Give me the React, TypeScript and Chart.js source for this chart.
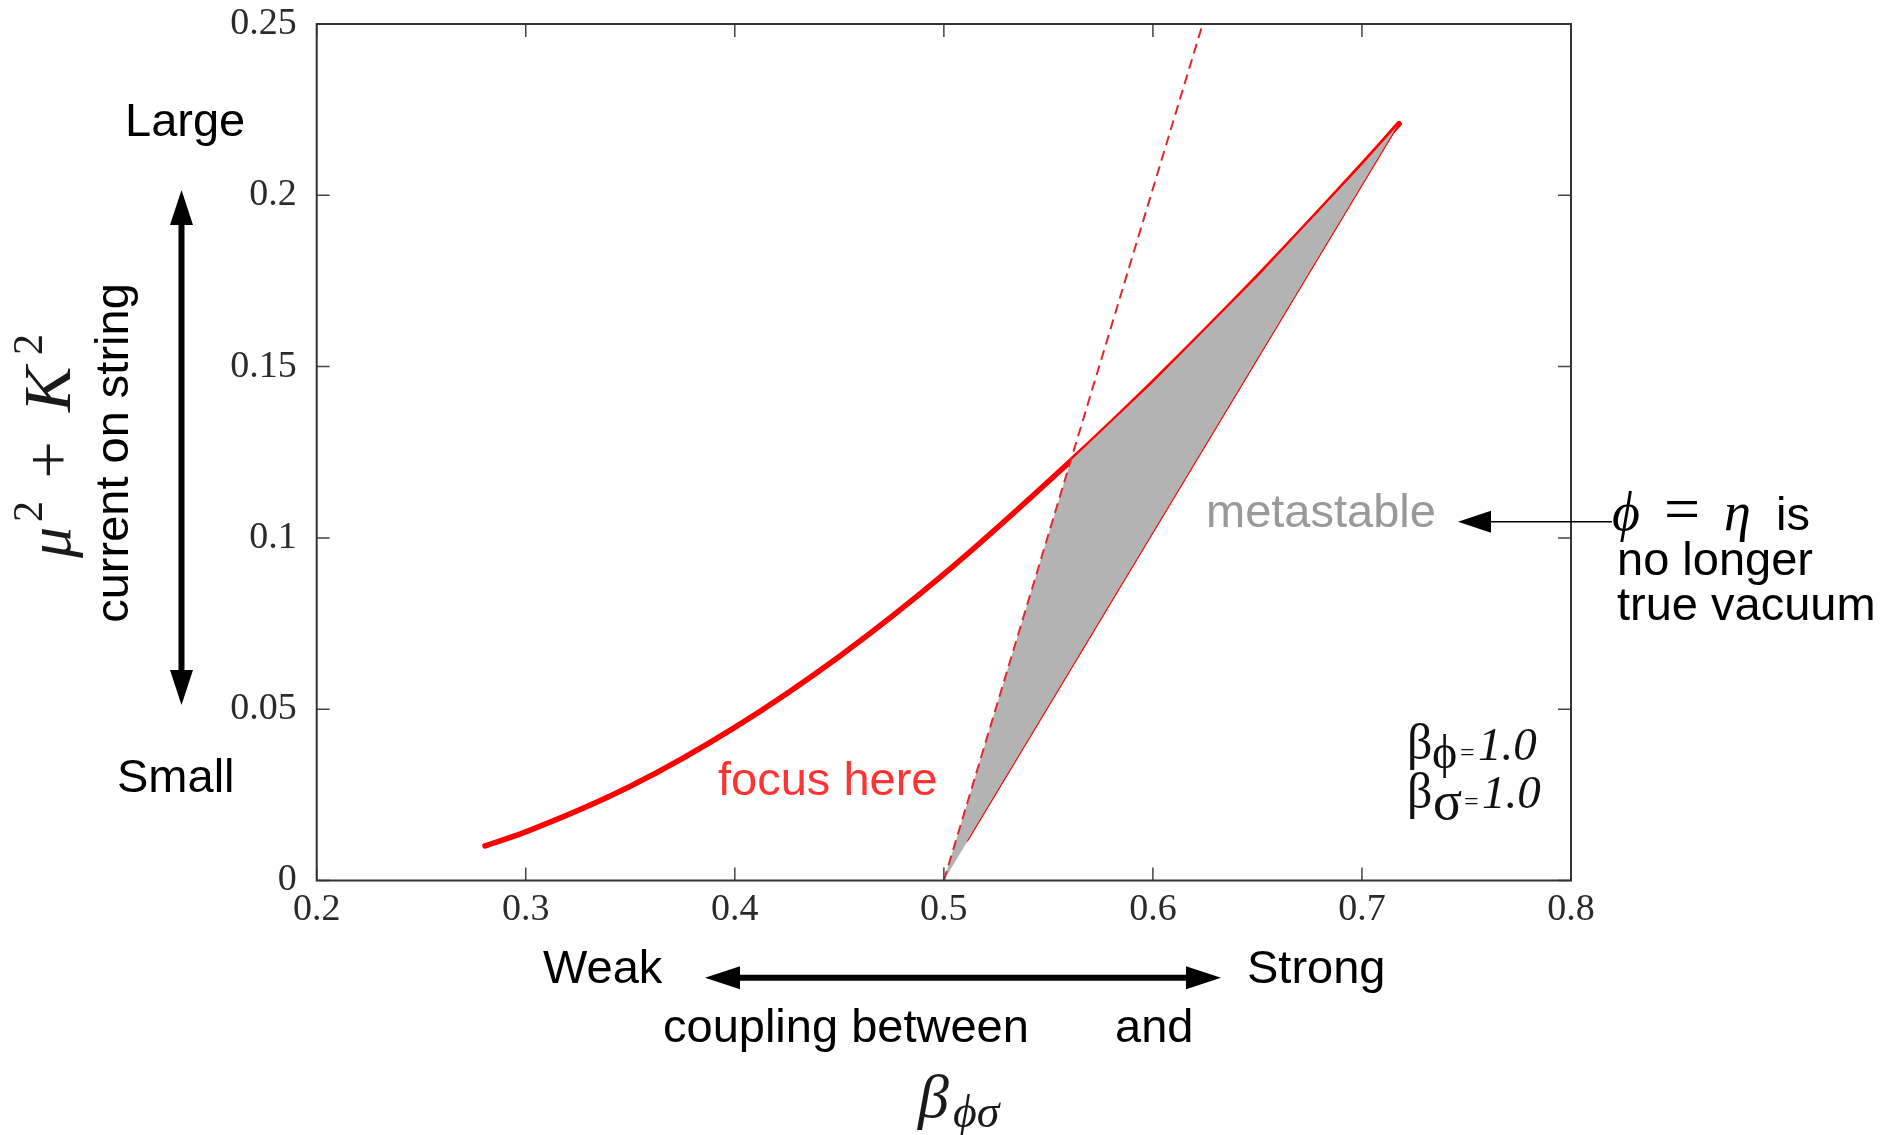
import React, { useEffect, useRef } from 'react';
import { Chart, registerables } from 'chart.js';

Chart.register(...registerables);

// ---- axis ticks ----
const xTickValues = [0.2, 0.3, 0.4, 0.5, 0.6, 0.7, 0.8];
const xTickLabels = ['0.2', '0.3', '0.4', '0.5', '0.6', '0.7', '0.8'];
const yTickValues = [0, 0.05, 0.1, 0.15, 0.2, 0.25];
const yTickLabels = ['0', '0.05', '0.1', '0.15', '0.2', '0.25'];

// ---- thick red curve (mu^2 + K^2 vs beta_phi_sigma) ----
const curveX = [0.2805, 0.3, 0.35, 0.4, 0.45, 0.5, 0.5617, 0.6, 0.65, 0.7, 0.7178];
const curveY = [0.0101, 0.0142, 0.0275, 0.0447, 0.0654, 0.0894, 0.123, 0.1453, 0.1761, 0.2088, 0.2209];

// ---- dashed red line ----
const dashX = [0.5, 0.6238];
const dashY = [0, 0.25];

// ---- metastable (grey) region outline ----
const metaX = [0.5, 0.5607, 0.6, 0.65, 0.7, 0.7178, 0.5];
const metaY = [0, 0.1225, 0.1453, 0.1761, 0.2088, 0.2209, 0];

// ---- thin red lower boundary ----
const lowerX = [0.5112, 0.7178];
const lowerY = [0.0114, 0.2209];

const SANS = '"Liberation Sans", Arial, sans-serif';
const SERIF = '"Liberation Serif", "Times New Roman", "DejaVu Serif", serif';

const pts = (xs: number[], ys: number[]) => xs.map((x, i) => ({ x, y: ys[i] }));

function drawArrowHead(ctx: CanvasRenderingContext2D, tipX: number, tipY: number, dirX: number, dirY: number, len: number, half: number) {
  const bx = tipX - dirX * len;
  const by = tipY - dirY * len;
  const px = -dirY;
  const py = dirX;
  ctx.beginPath();
  ctx.moveTo(tipX, tipY);
  ctx.lineTo(bx + px * half, by + py * half);
  ctx.lineTo(bx - px * half, by - py * half);
  ctx.closePath();
  ctx.fill();
}

function doubleArrow(ctx: CanvasRenderingContext2D, x1: number, y1: number, x2: number, y2: number, shaft: number, len: number, half: number) {
  const L = Math.hypot(x2 - x1, y2 - y1);
  const dx = (x2 - x1) / L;
  const dy = (y2 - y1) / L;
  ctx.lineWidth = shaft;
  ctx.beginPath();
  ctx.moveTo(x1 + dx * (len - 2), y1 + dy * (len - 2));
  ctx.lineTo(x2 - dx * (len - 2), y2 - dy * (len - 2));
  ctx.stroke();
  drawArrowHead(ctx, x2, y2, dx, dy, len, half);
  drawArrowHead(ctx, x1, y1, -dx, -dy, len, half);
}

function text(ctx: CanvasRenderingContext2D, s: string, x: number, y: number, font: string, color = '#000', align: CanvasTextAlign = 'left') {
  ctx.font = font;
  ctx.fillStyle = color;
  ctx.textAlign = align;
  ctx.textBaseline = 'alphabetic';
  ctx.fillText(s, x, y);
}

const annotations = {
  id: 'annotations',
  afterDraw(chart: any) {
    const ctx: CanvasRenderingContext2D = chart.ctx;
    const { left, right, top, bottom } = chart.chartArea;
    const xs = chart.scales.x;
    const ys = chart.scales.y;
    ctx.save();

    // inward ticks (mirrored)
    ctx.strokeStyle = '#444';
    ctx.lineWidth = 1.5;
    ctx.beginPath();
    for (const v of xTickValues) {
      const p = xs.getPixelForValue(v);
      ctx.moveTo(p, bottom);
      ctx.lineTo(p, bottom - 13);
      ctx.moveTo(p, top);
      ctx.lineTo(p, top + 13);
    }
    for (const v of yTickValues) {
      const p = ys.getPixelForValue(v);
      ctx.moveTo(left, p);
      ctx.lineTo(left + 13, p);
      ctx.moveTo(right, p);
      ctx.lineTo(right - 13, p);
    }
    ctx.stroke();

    // frame
    ctx.strokeStyle = '#333';
    ctx.lineWidth = 2;
    ctx.strokeRect(left, top, right - left, bottom - top);

    // ---- left side annotations ----
    text(ctx, 'Large', 125, 136, `47px ${SANS}`);
    text(ctx, 'Small', 117, 792, `47px ${SANS}`);
    ctx.fillStyle = '#000';
    ctx.strokeStyle = '#000';
    doubleArrow(ctx, 181.5, 190, 181.5, 705, 6, 35, 11.5);

    // rotated "current on string"
    ctx.save();
    ctx.translate(128, 453);
    ctx.rotate(-Math.PI / 2);
    text(ctx, 'current on string', 0, 0, `47px ${SANS}`, '#000', 'center');
    ctx.restore();

    // rotated mu^2 + K^2
    ctx.save();
    ctx.translate(70, 558);
    ctx.rotate(-Math.PI / 2);
    text(ctx, 'μ', 0, 0, `italic 62px ${SERIF}`, '#1a1a1a');
    text(ctx, '2', 36, -28, `42px ${SERIF}`, '#1a1a1a');
    text(ctx, '+', 98, 0, `66px ${SERIF}`, '#1a1a1a', 'center');
    text(ctx, 'K', 146, 0, `italic 68px ${SERIF}`, '#1a1a1a');
    text(ctx, '2', 203, -28, `42px ${SERIF}`, '#1a1a1a');
    ctx.restore();

    // ---- inside plot ----
    text(ctx, 'focus here', 718, 795, `47px ${SANS}`, '#ff3333');
    text(ctx, 'metastable', 1206, 527, `47px ${SANS}`, '#999999');

    // parameter box
    text(ctx, 'β', 1407, 759, `50px ${SERIF}`, '#111');
    text(ctx, 'ϕ', 1432, 768, `48px ${SERIF}`, '#111');
    text(ctx, '=', 1460, 761, `26px ${SERIF}`, '#111');
    text(ctx, '1.0', 1478, 760, `italic 47px ${SERIF}`, '#111');
    text(ctx, 'β', 1407, 808, `50px ${SERIF}`, '#111');
    text(ctx, 'σ', 1433, 819, `54px ${SERIF}`, '#111');
    text(ctx, '=', 1464, 810, `26px ${SERIF}`, '#111');
    text(ctx, '1.0', 1482, 808, `italic 47px ${SERIF}`, '#111');

    // ---- right side: phi = eta is no longer true vacuum ----
    ctx.strokeStyle = '#000';
    ctx.fillStyle = '#000';
    ctx.lineWidth = 1.5;
    ctx.beginPath();
    ctx.moveTo(1612, 521.7);
    ctx.lineTo(1488, 521.7);
    ctx.stroke();
    drawArrowHead(ctx, 1458, 521.7, -1, 0, 33, 11);

    text(ctx, 'ϕ', 1612, 530, `italic 54px ${SERIF}`);
    text(ctx, '=', 1682, 530, `64px ${SERIF}`, '#000', 'center');
    text(ctx, 'η', 1724, 530, `italic 54px ${SERIF}`);
    text(ctx, 'is', 1776, 530, `47px ${SANS}`);
    text(ctx, 'no longer', 1617, 575, `47px ${SANS}`);
    text(ctx, 'true vacuum', 1617, 620, `47px ${SANS}`);

    // ---- bottom annotations ----
    text(ctx, 'Weak', 543, 983, `47px ${SANS}`);
    text(ctx, 'Strong', 1247, 983, `47px ${SANS}`);
    ctx.fillStyle = '#000';
    ctx.strokeStyle = '#000';
    doubleArrow(ctx, 705, 977.7, 1221, 977.7, 6, 35, 11.5);
    text(ctx, 'coupling between', 663, 1042, `47px ${SANS}`);
    text(ctx, 'and', 1115, 1042, `47px ${SANS}`);

    // x-axis title beta_{phi sigma}
    text(ctx, 'β', 918, 1117, `italic 62px ${SERIF}`, '#1a1a1a');
    text(ctx, 'ϕσ', 953, 1127, `italic 46px ${SERIF}`, '#1a1a1a');

    ctx.restore();
  },
};

export default function App() {
  const canvasRef = useRef<HTMLCanvasElement | null>(null);

  useEffect(() => {
    const canvas = canvasRef.current;
    if (!canvas) return;
    const tickFont = { family: SERIF, size: 38 };
    const chart = new Chart(canvas, {
      type: 'line',
      data: {
        datasets: [
          {
            data: pts(lowerX, lowerY),
            borderColor: '#ff0000',
            borderWidth: 1.2,
            pointRadius: 0,
            fill: false,
            tension: 0,
          },
          {
            data: pts(dashX, dashY),
            borderColor: '#e3262b',
            borderWidth: 2,
            borderDash: [10, 6],
            pointRadius: 0,
            fill: false,
            tension: 0,
          },
          {
            data: pts(metaX, metaY),
            borderColor: 'rgba(0,0,0,0)',
            borderWidth: 0,
            backgroundColor: '#b3b3b3',
            pointRadius: 0,
            fill: 'shape',
            tension: 0,
          },
          {
            data: pts(curveX, curveY),
            borderColor: '#ff0000',
            borderWidth: 5.5,
            borderCapStyle: 'round',
            pointRadius: 0,
            fill: false,
            cubicInterpolationMode: 'monotone',
          },
        ],
      } as any,
      options: {
        responsive: false,
        animation: false,
        devicePixelRatio: 1,
        layout: { padding: { left: 0, top: 24, right: 324, bottom: 194.5 } },
        plugins: { legend: { display: false }, tooltip: { enabled: false }, title: { display: false } },
        scales: {
          x: {
            type: 'linear',
            min: 0.2,
            max: 0.8,
            grid: { display: false, drawTicks: false },
            border: { display: false },
            afterBuildTicks: (s: any) => {
              s.ticks = xTickValues.map((v) => ({ value: v }));
            },
            afterFit: (s: any) => {
              s.height = 60;
              s.paddingLeft = 0;
              s.paddingRight = 0;
            },
            ticks: {
              padding: 7,
              color: '#2a2a2a',
              font: tickFont,
              maxRotation: 0,
              autoSkip: false,
              callback: (v: any) => {
                const i = xTickValues.indexOf(Number(v));
                return i >= 0 ? xTickLabels[i] : '';
              },
            },
          },
          y: {
            type: 'linear',
            min: 0,
            max: 0.25,
            grid: { display: false, drawTicks: false },
            border: { display: false },
            afterBuildTicks: (s: any) => {
              s.ticks = yTickValues.map((v) => ({ value: v }));
            },
            afterFit: (s: any) => {
              s.width = 316.7;
              s.paddingTop = 0;
              s.paddingBottom = 0;
            },
            ticks: {
              padding: 20,
              color: '#2a2a2a',
              font: tickFont,
              autoSkip: false,
              callback: (v: any) => {
                const i = yTickValues.indexOf(Number(v));
                return i >= 0 ? yTickLabels[i] : '';
              },
            },
          },
        },
      } as any,
      plugins: [annotations],
    });
    return () => chart.destroy();
  }, []);

  return (
    <div style={{ position: 'absolute', left: 0, top: 0, width: 1895, height: 1135, background: '#fff' }}>
      <canvas ref={canvasRef} width={1895} height={1135} style={{ display: 'block' }} />
    </div>
  );
}
